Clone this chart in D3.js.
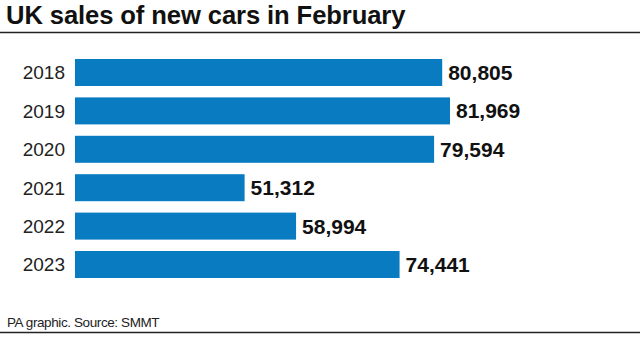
<!DOCTYPE html>
<html>
<head>
<meta charset="utf-8">
<script src="https://cdn.jsdelivr.net/npm/d3@7"></script>
<style>
  html, body { margin: 0; padding: 0; background: #fff; }
  svg { display: block; }
</style>
</head>
<body>
<svg id="chart" width="640" height="339"></svg>
<script>
const years = ["2018", "2019", "2020", "2021", "2022", "2023"];
const sales = [80805, 81969, 79594, 51312, 58994, 74441];
const title = "UK sales of new cars in February";
const source = "PA graphic. Source: SMMT";

const svg = d3.select("#chart");
const W = 640, H = 339;

svg.append("text")
  .attr("x", 6).attr("y", 24)
  .attr("font-family", "Liberation Sans, Arial, sans-serif")
  .attr("font-weight", "bold").attr("font-size", 25.6)
  .attr("letter-spacing", -0.1)
  .attr("fill", "#111")
  .text(title);

svg.append("line")
  .attr("x1", 0).attr("x2", W).attr("y1", 32.5).attr("y2", 32.5)
  .attr("stroke", "#222").attr("stroke-width", 1.5);

const left = 75;
const y = d3.scaleBand().domain(years).range([59, 278]).paddingInner(0.297).paddingOuter(0);
const x = d3.scaleLinear().domain([26000, 81969]).range([left, left + 375]);

const rows = svg.append("g").selectAll("g").data(years).join("g");

rows.append("rect")
  .attr("x", left)
  .attr("y", d => y(d))
  .attr("width", (d, i) => x(sales[i]) - left)
  .attr("height", y.bandwidth())
  .attr("fill", "#087bc1");

rows.append("text")
  .attr("x", 65)
  .attr("y", d => y(d) + y.bandwidth() / 2)
  .attr("dy", "0.36em")
  .attr("text-anchor", "end")
  .attr("font-family", "Liberation Sans, Arial, sans-serif")
  .attr("font-size", 19)
  .attr("fill", "#222")
  .text(d => d);

rows.append("text")
  .attr("x", (d, i) => x(sales[i]) + 6)
  .attr("y", d => y(d) + y.bandwidth() / 2)
  .attr("dy", "0.36em")
  .attr("font-family", "Liberation Sans, Arial, sans-serif")
  .attr("font-weight", "bold")
  .attr("font-size", 21)
  .attr("fill", "#111")
  .text((d, i) => d3.format(",")(sales[i]));

svg.append("text")
  .attr("x", 7).attr("y", 327)
  .attr("font-family", "Liberation Sans, Arial, sans-serif")
  .attr("font-size", 13.5)
  .attr("letter-spacing", -0.4)
  .attr("fill", "#222")
  .text(source);

svg.append("line")
  .attr("x1", 0).attr("x2", W).attr("y1", 332.5).attr("y2", 332.5)
  .attr("stroke", "#222").attr("stroke-width", 1.5);
</script>
</body>
</html>
